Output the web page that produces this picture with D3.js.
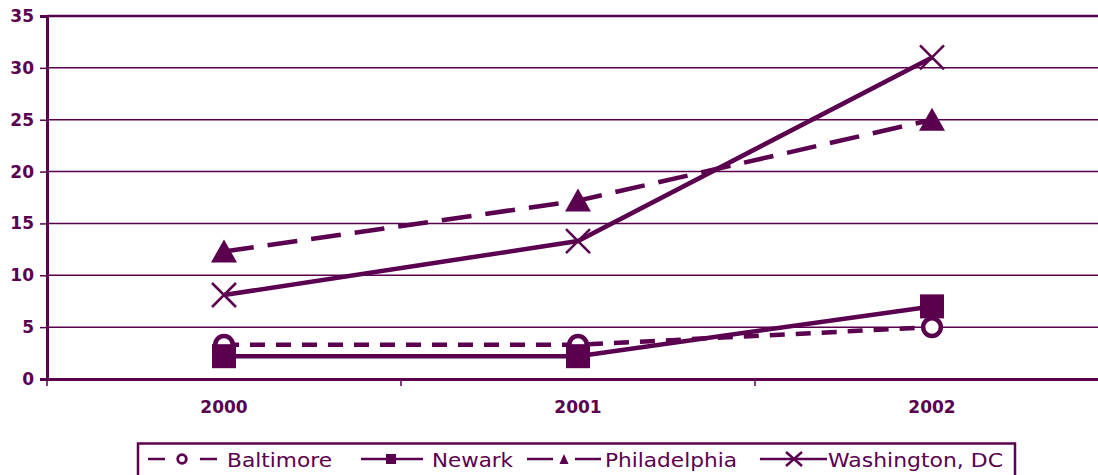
<!DOCTYPE html>
<html><head><meta charset="utf-8">
<script src="https://cdn.jsdelivr.net/npm/d3@7"></script>
<style>body{margin:0;background:#fff}svg{display:block}</style>
</head><body>
<svg id="c" width="1098" height="475"></svg>
<script>
const years = ["2000","2001","2002"];
const baltimore = [3.3, 3.3, 5.0];
const newark = [2.2, 2.2, 7.0];
const philadelphia = [12.3, 17.2, 25.0];
const washington = [8.1, 13.3, 31.0];
const yTicks = [0,5,10,15,20,25,30,35];
const seriesNames = ["Baltimore","Newark","Philadelphia","Washington, DC"];

(function(){
const C = "#5a004f";
const svg = d3.select("#c");
const pl = 47, pr = 1109, pt = 16, pb = 379;
const x = d3.scaleBand().domain(years).range([pl, pr]);
const y = d3.scaleLinear().domain([0,35]).range([pb, pt]);
const xc = d => x(d) + x.bandwidth()/2;
const FONT = "'DejaVu Sans', Verdana, sans-serif";

svg.append("g").selectAll("line").data(yTicks.filter(t=>t>0)).join("line")
  .attr("x1", pl).attr("x2", 1098).attr("y1", d=>y(d)).attr("y2", d=>y(d))
  .attr("stroke", C).attr("stroke-width", d=>d===35?2.5:1.5);

const ya = svg.append("g").attr("transform",`translate(${pl},0)`)
  .call(d3.axisLeft(y).tickValues(yTicks).tickSize(7).tickPadding(6));
ya.select(".domain").attr("stroke", C).attr("stroke-width", 3);
ya.selectAll(".tick line").attr("stroke", C).attr("stroke-width", 1.5);
ya.selectAll("text").attr("fill", C).style("font-family",FONT)
  .style("font-size","17px").style("font-weight","bold");

const xa = svg.append("g").attr("transform",`translate(0,${pb})`)
  .call(d3.axisBottom(x).tickSize(0).tickPadding(22));
xa.select(".domain").attr("stroke", C).attr("stroke-width", 3);
xa.selectAll("text").attr("fill", C).style("font-family",FONT)
  .style("font-size","17px").style("font-weight","bold");
svg.append("g").selectAll("line").data(d3.range(years.length+1)).join("line")
  .attr("x1", i=>pl + i*x.bandwidth()).attr("x2", i=>pl + i*x.bandwidth())
  .attr("y1", pb).attr("y2", pb+7).attr("stroke", C).attr("stroke-width", 1.5);

const line = d3.line().x((d,i)=>xc(years[i])).y(d=>y(d));
const series = [
  {name:seriesNames[0], vals:baltimore, dash:"15,11", marker:"circle"},
  {name:seriesNames[1], vals:newark, dash:null, marker:"square"},
  {name:seriesNames[2], vals:philadelphia, dash:"30,14", marker:"triangle"},
  {name:seriesNames[3], vals:washington, dash:null, marker:"x"},
];

function drawMarker(g, type, cx, cy) {
  if (type==="circle") {
    g.append("circle").attr("cx",cx).attr("cy",cy).attr("r",8.8).attr("fill","#fff").attr("stroke",C).attr("stroke-width",4.5);
  } else if (type==="square") {
    g.append("rect").attr("x",cx-12).attr("y",cy-12).attr("width",24).attr("height",24).attr("fill",C);
  } else if (type==="triangle") {
    g.append("path").attr("d",`M${cx},${cy-12}L${cx+13},${cy+11}L${cx-13},${cy+11}Z`).attr("fill",C);
  } else {
    g.append("path").attr("d",`M${cx-12},${cy-12}L${cx+12},${cy+12}M${cx+12},${cy-12}L${cx-12},${cy+12}`)
      .attr("stroke",C).attr("stroke-width",2.5).attr("fill","none");
  }
}

[3,2,1,0].forEach(k=>{
  const s = series[k];
  svg.append("path").attr("d", line(s.vals)).attr("fill","none").attr("stroke",C)
    .attr("stroke-width",4.5).attr("stroke-dasharray", s.dash);
});
[3,2,0,1].forEach(k=>{
  const s = series[k];
  const g = svg.append("g");
  s.vals.forEach((v,i)=>drawMarker(g, s.marker, xc(years[i]), y(v)));
});

// legend
const lg = svg.append("g");
lg.append("rect").attr("x",138).attr("y",443.5).attr("width",877).attr("height",40)
  .attr("fill","#fff").attr("stroke",C).attr("stroke-width",2.5);
const ly = 459;
const legend = [
  {segs:[[148,165],[200,217]], mx:182, tx:227, tw:105},
  {segs:[[361,423]], mx:391, tx:432, tw:81},
  {segs:[[527,553],[575,601]], mx:564, tx:605, tw:132},
  {segs:[[760,827]], mx:794, tx:828, tw:175},
];
series.forEach((s,i)=>{
  const p = legend[i];
  const g = lg.append("g");
  p.segs.forEach(sg=>g.append("line").attr("x1",sg[0]).attr("x2",sg[1]).attr("y1",ly).attr("y2",ly)
    .attr("stroke",C).attr("stroke-width",2.5));
  const cx = p.mx;
  if (s.marker==="circle") g.append("circle").attr("cx",cx).attr("cy",ly).attr("r",4.3).attr("fill","#fff").attr("stroke",C).attr("stroke-width",2.8);
  else if (s.marker==="square") g.append("rect").attr("x",cx-5).attr("y",ly-5).attr("width",10).attr("height",10).attr("fill",C);
  else if (s.marker==="triangle") g.append("path").attr("d",`M${cx},${ly-5}L${cx+4.5},${ly+5}L${cx-4.5},${ly+5}Z`).attr("fill",C);
  else g.append("path").attr("d",`M${cx-8},${ly-7}L${cx+8},${ly+7}M${cx+8},${ly-7}L${cx-8},${ly+7}`).attr("stroke",C).attr("stroke-width",2.4);
  g.append("text").attr("x",p.tx).attr("y",467).attr("fill",C)
    .attr("textLength", p.tw).attr("lengthAdjust","spacingAndGlyphs")
    .style("font-family",FONT).style("font-size","19px")
    .text(s.name);
});
})();
</script>
</body></html>
